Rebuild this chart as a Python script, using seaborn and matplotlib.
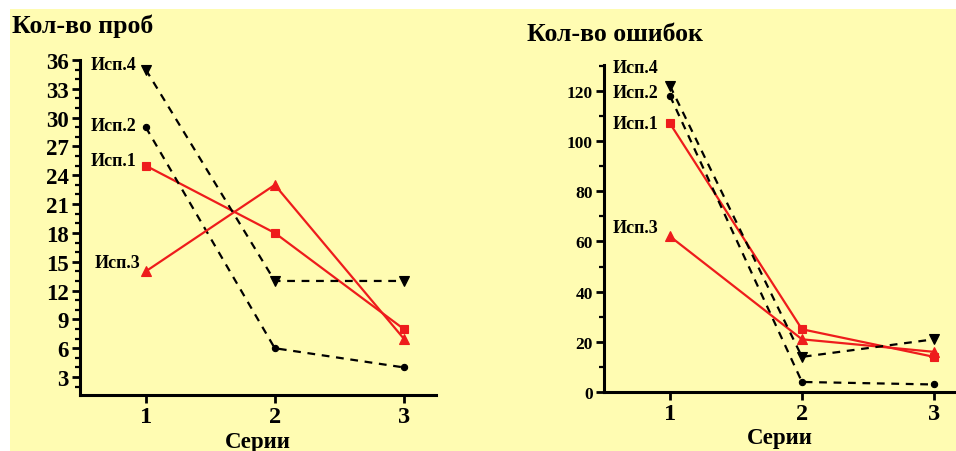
import matplotlib
matplotlib.use("Agg")
import matplotlib.pyplot as plt
import seaborn as sns
import pandas as pd
from matplotlib.ticker import MultipleLocator, FixedLocator
from matplotlib.patches import Rectangle

sns.set_theme(style="ticks")
plt.rcParams['font.family'] = ['Liberation Serif', 'DejaVu Serif']
plt.rcParams['font.weight'] = 'bold'
for k in ['text.color', 'axes.labelcolor', 'xtick.color', 'ytick.color',
          'xtick.labelcolor', 'ytick.labelcolor']:
    plt.rcParams[k] = 'black'

series = [1, 2, 3]
names = ["Исп.1", "Исп.2", "Исп.3", "Исп.4"]

# left chart: number of trials
trials_1 = [25, 18, 8]
trials_2 = [29, 6, 4]
trials_3 = [14, 23, 7]
trials_4 = [35, 13, 13]

# right chart: number of errors
errors_1 = [107, 25, 14]
errors_2 = [118, 4, 3]
errors_3 = [62, 21, 16]
errors_4 = [122, 14, 21]

left_ticks = [3, 6, 9, 12, 15, 18, 21, 24, 27, 30, 33, 36]
right_ticks = [0, 20, 40, 60, 80, 100, 120]

RED = "#ee1c1c"
BLACK = "#000000"
styles = {
    "Исп.1": dict(color=RED, marker="s", ms=5.5, ls="-"),
    "Исп.2": dict(color=BLACK, marker="o", ms=4.5, ls=(0, (3.5, 3))),
    "Исп.3": dict(color=RED, marker="^", ms=6.5, ls="-"),
    "Исп.4": dict(color=BLACK, marker="v", ms=6.5, ls=(0, (3.5, 3))),
}

fig = plt.figure(figsize=(9.56, 4.52), dpi=100, facecolor="white")
fig.patches.append(Rectangle((10 / 956, 0), 1, 1 - 10 / 452, transform=fig.transFigure,
                             facecolor="#fffcb2", edgecolor="none", zorder=-10))

axL = fig.add_axes([80 / 956, 1 - 396 / 452, (436 - 80) / 956, (396 - 61) / 452])
axR = fig.add_axes([604 / 956, 1 - 393 / 452, (956 - 604) / 956, (393 - 66) / 452])

def draw(ax, data, label_pos):
    frames = []
    for name, vals in zip(names, data):
        frames.append(pd.DataFrame({"Серии": series, "v": vals, "name": name}))
    df = pd.concat(frames)
    for name in names:
        st = styles[name]
        sub = df[df["name"] == name]
        sns.lineplot(data=sub, x="Серии", y="v", ax=ax, color=st["color"],
                     marker=st["marker"], markersize=st["ms"], linestyle=st["ls"],
                     markeredgecolor=st["color"], markeredgewidth=0.8,
                     linewidth=1.6, legend=False, clip_on=False)
    for name, (tx, ty) in zip(names, label_pos):
        ax.text(tx, ty, name, ha="right", va="center", fontsize=13,
                fontweight="bold", color="black", transform=ax.transData,
                clip_on=False)
    ax.set_facecolor("none")
    for s in ["top", "right"]:
        ax.spines[s].set_visible(False)
    for s in ["left", "bottom"]:
        ax.spines[s].set_linewidth(2.2)
        ax.spines[s].set_color("black")
    ax.set_xticks(series)
    ax.set_xticklabels([str(s) for s in series], fontsize=17.5, fontweight="bold")
    ax.set_ylabel("")
    ax.tick_params(axis="x", which="major", length=6, width=2, color="black", pad=2)
    ax.tick_params(axis="y", which="major", length=6, width=2, color="black", pad=2)
    ax.tick_params(axis="y", which="minor", length=3.5, width=1.6, color="black")

# left
draw(axL, [trials_1, trials_2, trials_3, trials_4],
     [(0.925, 25.5), (0.925, 29.2), (0.955, 14.9), (0.925, 35.5)])
axL.set_xlim(0.49, 3.25)
axL.set_ylim(1.13, 36)
axL.yaxis.set_major_locator(FixedLocator(left_ticks))
axL.yaxis.set_minor_locator(MultipleLocator(1))
axL.set_yticklabels([str(t) for t in left_ticks], fontsize=16.5, fontweight="bold")
axL.set_xlabel("Серии", fontsize=16.5, fontweight="bold", labelpad=3)
axL.text(-0.19, 1.105, "Кол-во проб", transform=axL.transAxes, fontsize=18.5,
         fontweight="bold", ha="left", va="center")

# right
draw(axR, [errors_1, errors_2, errors_3, errors_4],
     [(0.915, 107), (0.915, 119.5), (0.915, 65.5), (0.915, 129.5)])
axR.set_xlim(0.5, 3.167)
axR.set_ylim(0, 130.3)
axR.yaxis.set_major_locator(FixedLocator(right_ticks))
axR.yaxis.set_minor_locator(MultipleLocator(10))
axR.set_yticklabels([str(t) for t in right_ticks], fontsize=12.5, fontweight="bold")
axR.set_xlabel("Серии", fontsize=16.5, fontweight="bold", labelpad=2)
axR.text(-0.22, 1.095, "Кол-во ошибок", transform=axR.transAxes, fontsize=18.5,
         fontweight="bold", ha="left", va="center")

fig.savefig("out.png", dpi=100, facecolor="white")
